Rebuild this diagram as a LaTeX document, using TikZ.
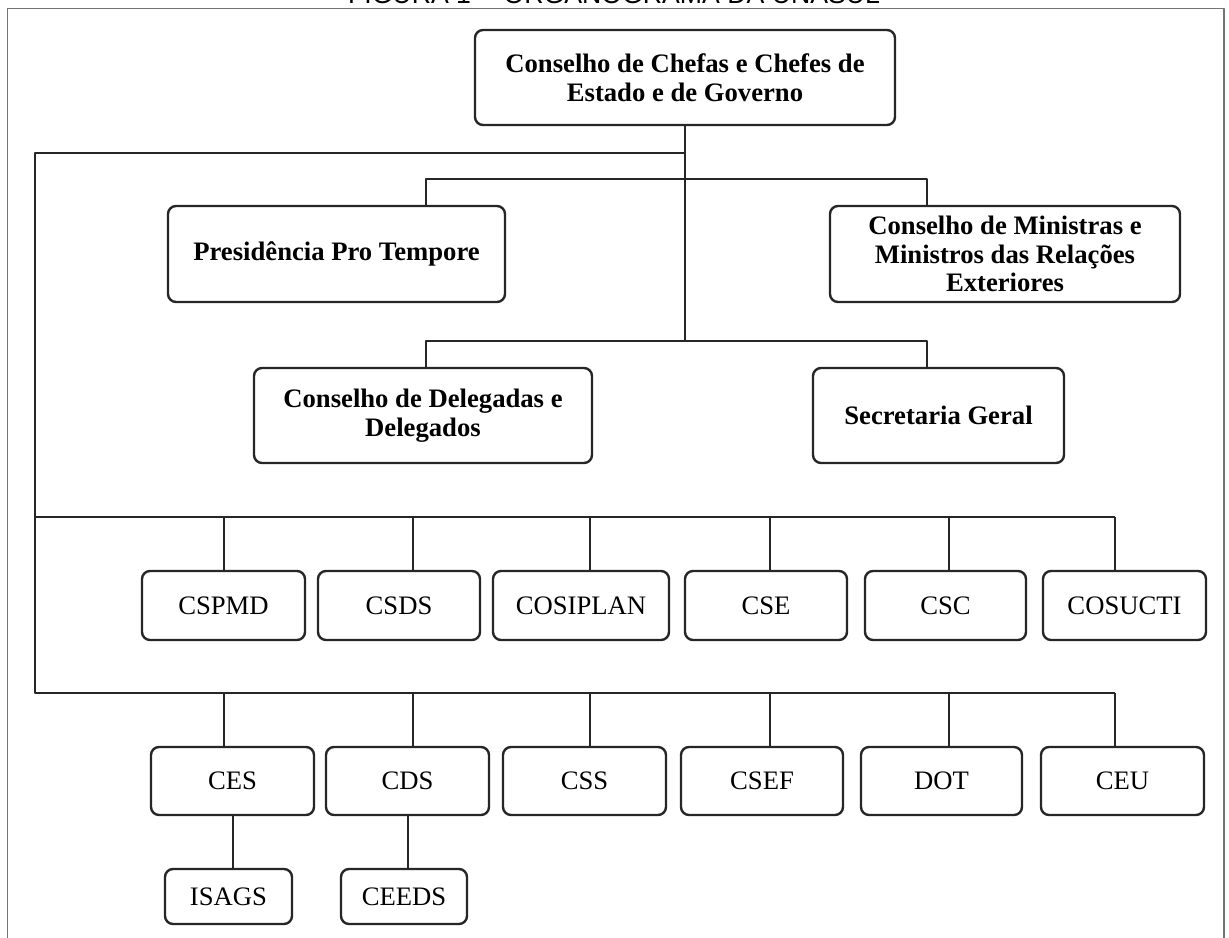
\documentclass[tikz,border=0pt]{standalone}
\usepackage{fontspec}
\setmainfont{Liberation Serif}
\newfontfamily\titlefont{Liberation Sans}
\usetikzlibrary{positioning}

\begin{document}
\begin{tikzpicture}[x=0.75pt,y=-0.75pt,line join=round,
                    wh/.style 2 args={minimum width=#1*0.75pt,minimum height=#2*0.75pt}]
  \tikzstyle{unit}=[draw=black!85,line width=1.8pt,rounded corners=6pt,align=center,inner sep=0pt]
  \tikzstyle{organ}=[unit,font=\fontsize{20}{21.5}\selectfont\bfseries]
  \tikzstyle{council}=[unit,font=\fontsize{20}{22}\selectfont]
  \tikzstyle{link}=[draw=black!85,line width=1.5pt]

  \useasboundingbox (0,0) rectangle (1229,938);
  \node[anchor=base,font=\titlefont\fontsize{20}{22}\selectfont] (title) at (614,4)
       {FIGURA 1 -- ORGANOGRAMA DA UNASUL};
  \draw[black!55,line width=1.4pt] (7.5,960) |- (1224,8.5) -- (1224,960);

  % upper organs
  \node[organ,wh={420}{95}] (chefes) at (685,77.5) {Conselho de Chefas e Chefes de\\Estado e de Governo};
  \node[organ,wh={337}{96}] (pres)   at (336.5,254) {Presidência Pro Tempore};
  \node[organ,wh={350}{96}] (min)    at (1005,254)  {Conselho de Ministras e\\Ministros das Relações\\Exteriores};
  \node[organ,wh={338}{95}] (deleg)  at (423,415.5) {Conselho de Delegadas e\\Delegados};
  \node[organ,wh={251}{95}] (sec)    at (938.5,415.5) {Secretaria Geral};

  % councils
  \node[council,wh={163}{69}] (cspmd)    at (223.5,605.5) {CSPMD};
  \node[council,wh={162}{69}] (csds)     at (399,605.5)   {CSDS};
  \node[council,wh={176}{69}] (cosiplan) at (581,605.5)   {COSIPLAN};
  \node[council,wh={162}{69}] (cse)      at (766,605.5)   {CSE};
  \node[council,wh={161}{69}] (csc)      at (945.5,605.5) {CSC};
  \node[council,wh={163}{69}] (cosucti)  at (1124.5,605.5) {COSUCTI};

  \node[council,wh={163}{68}] (ces)  at (232.5,781)  {CES};
  \node[council,wh={163}{68}] (cds)  at (407.5,781)  {CDS};
  \node[council,wh={163}{68}] (css)  at (584.5,781)  {CSS};
  \node[council,wh={162}{68}] (csef) at (762,781)    {CSEF};
  \node[council,wh={161}{68}] (dot)  at (941.5,781)  {DOT};
  \node[council,wh={163}{68}] (ceu)  at (1122.5,781) {CEU};

  \node[council,wh={127}{55}] (isags) at (228.5,896.5) {ISAGS};
  \node[council,wh={126}{55}] (ceeds) at (404,896.5)   {CEEDS};

  % trunk and buses
  \draw[link] (chefes.south) -- (chefes.south |- 0,341);
  \draw[link] (chefes.south |- 0,153) -- (35,153) -- (35,693) -- (1115,693);
  \draw[link] (35,517) -- (1115,517);
  \draw[link] (426,0 |- pres.north) -- (426,179) -| (927,0 |- min.north);
  \draw[link] (426,0 |- deleg.north) -- (426,341) -| (927,0 |- sec.north);

  \foreach \x/\n in {224/cspmd,413/csds,590/cosiplan,770/cse,949/csc,1115/cosucti}
    \draw[link] (\x,517) -- (\x,517 |- \n.north);
  \foreach \x/\n in {224/ces,413/cds,590/css,770/csef,949/dot,1115/ceu}
    \draw[link] (\x,693) -- (\x,693 |- \n.north);

  \draw[link] (ces.south) -- (ces.south |- isags.north);
  \draw[link] (cds.south) -- (cds.south |- ceeds.north);
\end{tikzpicture}
\end{document}
